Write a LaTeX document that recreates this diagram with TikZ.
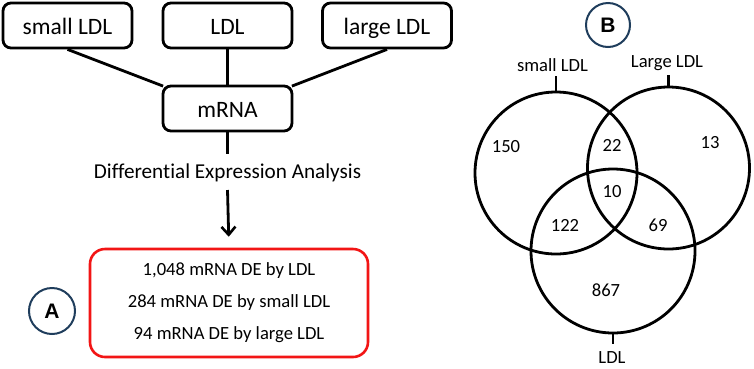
\documentclass[tikz,border=0pt]{standalone}
\usepackage{fontspec}
\setmainfont{Carlito}[Ligatures=NoCommon]
\newfontfamily\labfont{Liberation Sans}
\usetikzlibrary{arrows.meta,calc}
\definecolor{navy}{HTML}{1F3D5C}
\definecolor{boxred}{HTML}{F21515}
\begin{document}
\begin{tikzpicture}[x=1pt,y=-1pt,
 box/.style={draw, line width=2.8pt, rounded corners=8pt, minimum width=129pt, minimum height=45pt,
   font=\fontsize{23.5}{28}\selectfont, inner sep=0pt, text height=17pt, text depth=0pt},
 conn/.style={line width=2.8pt},
 venn/.style={draw, circle, line width=2.8pt, inner sep=0pt},
 num/.style={font=\fontsize{18.6}{22}\selectfont, inner sep=0pt},
 tag/.style={draw=navy, circle, line width=2pt, inner sep=0pt,
   font=\labfont\bfseries\fontsize{21}{25}\selectfont}]
\useasboundingbox (0,0) rectangle (754,368);

% ---- panel A ----
\node[box] (sl) at (67.5,25.5) {small LDL};
\node[box] (ld) at (227.5,25.5) {LDL};
\node[box] (ll) at (387,25.5) {large LDL};
\node[box] (m) at (227.5,108.5) {mRNA};

\draw[conn] (sl.south) -- ($(m.north west)+(1.5,1.5)$);
\draw[conn] (ld.south) -- (m.north);
\draw[conn] (ll.south) -- ($(m.north east)+(-1.5,1.5)$);

\node[font=\fontsize{21.2}{25}\selectfont, inner sep=0pt] (dea) at (227.5,173) {Differential Expression Analysis};
\coordinate (t1) at (227.5,154);
\coordinate (t2) at (227.5,190);
\draw[conn] (m.south) -- (t1);

\node[draw=boxred, line width=2.6pt, rounded corners=15pt, minimum width=278pt, minimum height=108pt,
  align=center, font=\fontsize{18.6}{32}\selectfont] (res) at (229,303)
  {1,048 mRNA DE by LDL\\284 mRNA DE by small LDL\\94 mRNA DE by large LDL};
\draw[conn, -{Straight Barb[length=8pt, width=14pt, line width=2.6pt]}, shorten >=11pt] (t2) -- (res.north);

\node[tag, minimum size=46pt] (la) at (52,311) {A};

% ---- panel B ----
\node[tag, minimum size=44pt] (lb) at (608,25) {B};

\node[venn, minimum size=162pt] (cs) at (556,173) {};
\node[venn, minimum size=162pt] (cl) at (668.5,168) {};
\node[venn, minimum size=164pt] (cd) at (613,251) {};

\coordinate (ts) at ($(cs.north)+(0,-15)$);
\coordinate (tl) at ($(cl.north)+(0,-11)$);
\coordinate (td) at ($(cd.south)+(0,10)$);
\draw[conn] (cs.north) -- (ts);
\draw[conn] (cl.north) -- (tl);
\draw[conn] (cd.south) -- (td);

\node[num] (ns) at (552.5,65) {small LDL};
\node[num] (nl) at (667,63) {Large LDL};
\node[num] (nd) at (612,358) {LDL};

\node[num] (n150) at (506,147) {150};
\node[num] (n22) at (612,145) {22};
\node[num] (n13) at (710,143) {13};
\node[num] (n10) at (612,192) {10};
\node[num] (n122) at (565,225) {122};
\node[num] (n69) at (658,225) {69};
\node[num] (n867) at (606,290) {867};
\end{tikzpicture}
\end{document}
